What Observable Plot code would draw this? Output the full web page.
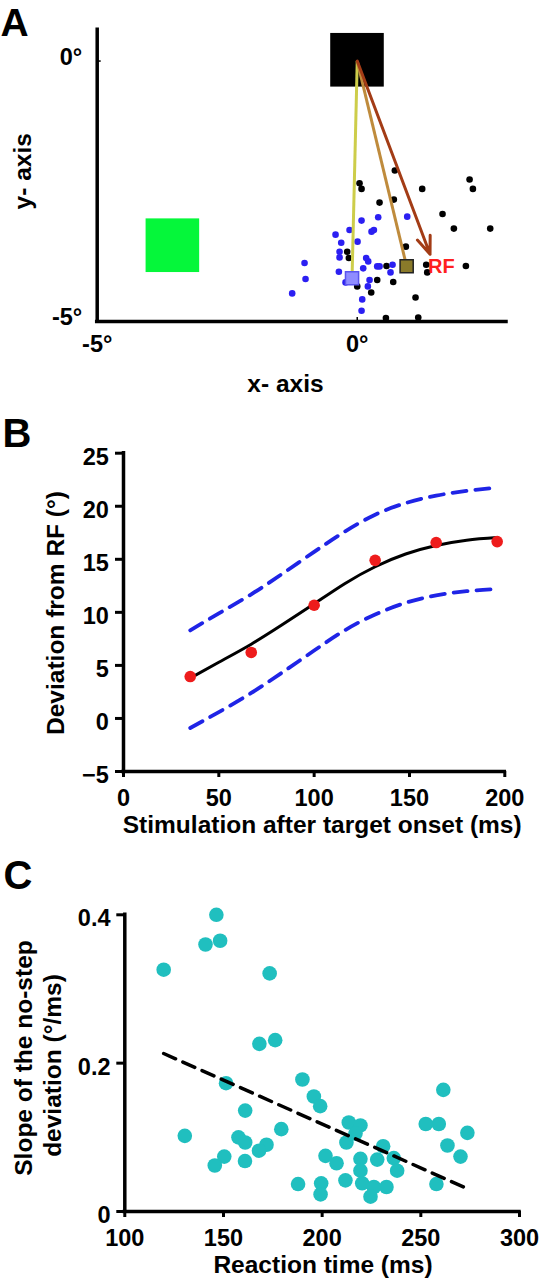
<!DOCTYPE html>
<html>
<head>
<meta charset="utf-8">
<script src="https://cdn.jsdelivr.net/npm/d3@7"></script>
<script src="https://cdn.jsdelivr.net/npm/@observablehq/plot@0.6"></script>
<style>
  html, body { margin: 0; padding: 0; background: #fff; }
  #wrap { position: relative; width: 540px; height: 1280px; overflow: hidden; background: #fff; }
  #wrap svg { position: absolute; left: 0; }
</style>
</head>
<body>
<div id="wrap"></div>
<script>
// ---------- Panel A data (degrees) ----------
const blackX = [0.723, 0.044, 0.083, 1.249, 2.160, 2.224, 0.429, 0.704, 1.640, 1.858, 2.557, 0.935, -0.193, -0.161, 0.563, 1.326, 1.346, 2.089, 0.384, 0.692, 0.0, 0.269, 1.121, 0.551, 1.173];
const blackY = [-2.102, -2.345, -2.454, -2.454, -2.275, -2.454, -2.717, -2.660, -2.935, -3.217, -3.217, -3.563, -3.660, -3.781, -3.935, -3.910, -4.057, -3.935, -4.204, -4.243, -4.326, -4.442, -4.538, -4.935, -4.922];
const blueX = [0.961, 0.403, 0.083, -0.148, 0.275, 0.320, -0.417, -0.308, 0.006, -0.340, -0.340, 0.172, 0.211, -1.013, 0.115, 0.384, 0.429, 0.679, -0.353, 0.640, -0.994, -0.225, 0.237, 0.204, -1.251, 0.096, 0.083];
const blueY = [-2.987, -2.999, -3.063, -3.243, -3.275, -3.243, -3.333, -3.487, -3.467, -3.660, -3.769, -3.781, -3.846, -3.878, -3.980, -3.942, -3.942, -3.910, -4.044, -4.057, -4.185, -4.249, -4.204, -4.326, -4.461, -4.576, -4.794];
// fixation box and target box
const boxX1 = [-0.51, -4.06];
const boxX2 = [0.52, -3.03];
const boxY1 = [-0.50, -4.06];
const boxY2 = [0.53, -3.03];
const fixX = [0];
const fixY = [0];
// saccade endpoints (no-stim, stim) and RF vector
const saccadeEndX = [-0.10, 0.95];
const saccadeEndY = [-4.17, -3.94];
const rfVecX = [1.40];
const rfVecY = [-3.71];
const rfLabelX = [1.36];
const rfLabelY = [-3.95];
const rfLabel = ["RF"];
const ticksA = [-5, 0];

// ---------- Panel B data ----------
const stimTime = [35, 67, 100, 132, 164, 196];
const deviation = [3.95, 6.22, 10.67, 14.9, 16.58, 16.67];
const fitTime = [35, 50, 67, 83, 100, 116, 132, 148, 164, 180, 196];
const fitDev = [3.8, 5.3, 7.0, 8.8, 10.8, 12.7, 14.3, 15.5, 16.3, 16.8, 17.05];
const upperDev = [8.3, 9.9, 11.7, 13.6, 15.7, 17.6, 19.2, 20.3, 21.0, 21.45, 21.75];
const lowerDev = [-0.9, 0.6, 2.4, 4.3, 6.4, 8.3, 9.8, 10.9, 11.6, 12.0, 12.2];
const ticksBx = [0, 50, 100, 150, 200];
const ticksBy = [-5, 0, 5, 10, 15, 20, 25];

// ---------- Panel C data ----------
const rt = [146.4, 140.9, 148.3, 119.7, 173.4, 168.2, 176.2, 151.3, 190.0, 195.8, 199.0, 161.0, 130.4, 157.6, 161.0, 179.3, 171.8, 168.0, 150.4, 145.6, 160.9, 213.5, 219.4, 216.9, 212.3, 201.7, 207.3, 230.9, 227.9, 219.4, 219.4, 236.3, 238.0, 187.8, 199.5, 199.2, 211.8, 220.3, 226.2, 224.5, 232.6, 252.5, 259.1, 261.4, 263.5, 273.6, 270.1, 257.9];
const slope = [0.400, 0.360, 0.365, 0.326, 0.321, 0.226, 0.231, 0.173, 0.178, 0.155, 0.142, 0.136, 0.102, 0.100, 0.093, 0.111, 0.090, 0.082, 0.074, 0.062, 0.068, 0.120, 0.116, 0.105, 0.093, 0.075, 0.065, 0.088, 0.070, 0.071, 0.055, 0.072, 0.055, 0.037, 0.038, 0.023, 0.042, 0.038, 0.033, 0.020, 0.033, 0.118, 0.118, 0.164, 0.089, 0.106, 0.074, 0.037];
const regRT = [119.7, 273.4];
const regSlope = [0.213, 0.031];
const ticksCx = [100, 150, 200, 250, 300];
const ticksCy = [0, 0.2, 0.4];

// ---------- build ----------
const FONT = "'Liberation Sans', Arial, Helvetica, sans-serif";
const TICKFS = 23.5, TITLEFS = 24.5, LETTERFS = 40;
const style = {fontFamily: FONT, fontWeight: "bold", fontSize: TICKFS + "px", color: "black", background: "transparent", overflow: "visible"};
const wrap = document.getElementById("wrap");
function place(svg, top) { svg.style.top = top + "px"; wrap.appendChild(svg); }

const degFmt = d => (d < 0 ? "-" : "") + Math.abs(d) + "°";

// Panel A
const blackPts = blackX.map((x, i) => ({x, y: blackY[i]}));
const bluePts = blueX.map((x, i) => ({x, y: blueY[i]}));
const boxes = boxX1.map((x1, i) => ({x1, x2: boxX2[i], y1: boxY1[i], y2: boxY2[i]}));
const sacc = saccadeEndX.map((x, i) => ({x1: fixX[0], y1: fixY[0], x2: x, y2: saccadeEndY[i]}));
const rfVec = rfVecX.map((x, i) => ({x1: fixX[0], y1: fixY[0], x2: x, y2: rfVecY[i]}));
const rfText = rfLabel.map((t, i) => ({x: rfLabelX[i], y: rfLabelY[i], t}));

const A = {ml: 96.7, mr: 34, mt: 29.3, mb: 79, h: 400};
const plotA = Plot.plot({
  width: 540, height: A.h,
  marginLeft: A.ml, marginRight: A.mr, marginTop: A.mt, marginBottom: A.mb,
  x: {domain: [-5, 2.87]}, y: {domain: [-5, 0.6]},
  style,
  marks: [
    Plot.rect([boxes[0]], {x1: "x1", x2: "x2", y1: "y1", y2: "y2", fill: "black"}),
    Plot.rect([boxes[1]], {x1: "x1", x2: "x2", y1: "y1", y2: "y2", fill: "#05f73a"}),
    Plot.dot(blackPts, {x: "x", y: "y", r: 3.3, fill: "black"}),
    Plot.dot(bluePts, {x: "x", y: "y", r: 3.3, fill: "#2b1ff2"}),
    Plot.link([sacc[0]], {x1: "x1", y1: "y1", x2: "x2", y2: "y2", stroke: "#cdcd4a", strokeWidth: 3}),
    Plot.link([sacc[1]], {x1: "x1", y1: "y1", x2: "x2", y2: "y2", stroke: "#bf8b3c", strokeWidth: 3}),
    Plot.arrow(rfVec, {x1: "x1", y1: "y1", x2: "x2", y2: "y2", stroke: "#a33c16", strokeWidth: 3, headLength: 9.5, headAngle: 42}),
    Plot.dot([{x: saccadeEndX[0], y: saccadeEndY[0]}], {x: "x", y: "y", symbol: "square", r: 7.4, fill: "#8f8cff", stroke: "#5a55ee", strokeWidth: 1.5}),
    Plot.dot([{x: saccadeEndX[1], y: saccadeEndY[1]}], {x: "x", y: "y", symbol: "square", r: 7.4, fill: "#8a7a2a", stroke: "#222", strokeWidth: 1.5}),
    Plot.text(rfText, {x: "x", y: "y", text: "t", fill: "#ff2020", fontSize: 20, textAnchor: "start"}),
    Plot.ruleX([-5], {strokeWidth: 3.5, strokeLinecap: "square"}),
    Plot.ruleY([-5], {strokeWidth: 3.5, strokeLinecap: "square"}),
    Plot.axisX({ticks: [0], tickSize: -4, tickFormat: () => "", strokeWidth: 1.5, label: null}),
    Plot.axisY({ticks: [0], tickSize: -4, tickFormat: () => "", strokeWidth: 1.5, label: null}),
    Plot.axisX({ticks: ticksA, tickSize: 0, tickPadding: 14, tickFormat: degFmt, label: null}),
    Plot.axisY({ticks: ticksA, tickSize: 0, tickPadding: 15, dy: -4, tickFormat: degFmt, label: null}),
    Plot.text(["x- axis"], {frameAnchor: "bottom", textAnchor: "middle", lineAnchor: "bottom", dx: 285 - (A.ml + 540 - A.mr) / 2, dy: 391 - (A.h - A.mb), fontSize: TITLEFS}),
    Plot.text(["y- axis"], {frameAnchor: "left", textAnchor: "middle", lineAnchor: "middle", rotate: -90, dx: 23 - A.ml, dy: 170.8 - (A.mt + A.h - A.mb) / 2, fontSize: TITLEFS}),
    Plot.text(["A"], {frameAnchor: "top-left", textAnchor: "start", lineAnchor: "bottom", dx: 0 - A.ml, dy: 35.5 - A.mt, fontSize: 39})
  ]
});
place(plotA, 0);

// Panel B
const B = {ml: 123, mr: 35.7, mt: 52.7, mb: 69, h: 440, top: 400};
const ptsB = stimTime.map((x, i) => ({x, y: deviation[i]}));
const fitB = fitTime.map((x, i) => ({x, y: fitDev[i]}));
const upB = fitTime.map((x, i) => ({x, y: upperDev[i]}));
const loB = fitTime.map((x, i) => ({x, y: lowerDev[i]}));
const plotB = Plot.plot({
  width: 540, height: B.h,
  marginLeft: B.ml, marginRight: B.mr, marginTop: B.mt, marginBottom: B.mb,
  x: {domain: [0, 200]}, y: {domain: [-5, 25]},
  style,
  marks: [
    Plot.line(upB, {x: "x", y: "y", stroke: "#1f24e6", strokeWidth: 3.8, strokeDasharray: "14,9", curve: "natural"}),
    Plot.line(loB, {x: "x", y: "y", stroke: "#1f24e6", strokeWidth: 3.8, strokeDasharray: "14,9", curve: "natural"}),
    Plot.line(fitB, {x: "x", y: "y", stroke: "black", strokeWidth: 3, curve: "natural"}),
    Plot.dot(ptsB, {x: "x", y: "y", r: 5.8, fill: "#ee1c1c"}),
    Plot.ruleX([0], {strokeWidth: 3.5, strokeLinecap: "square"}),
    Plot.ruleY([-5], {strokeWidth: 3.5, strokeLinecap: "square"}),
    Plot.axisX({ticks: ticksBx, tickSize: 6, tickPadding: 11.5, strokeWidth: 3, label: null}),
    Plot.axisY({ticks: ticksBy, tickSize: 8, tickFormat: () => "", strokeWidth: 3, label: null}),
    Plot.axisY({ticks: ticksBy, tickSize: 0, tickPadding: 14.7, dy: 4, label: null}),
    Plot.text(["Stimulation after target onset (ms)"], {frameAnchor: "bottom", textAnchor: "middle", lineAnchor: "bottom", dx: 321.7 - (B.ml + 540 - B.mr) / 2, dy: 832 - (B.top + B.h - B.mb), fontSize: TITLEFS}),
    Plot.text(["Deviation from RF (°)"], {frameAnchor: "left", textAnchor: "middle", lineAnchor: "middle", rotate: -90, dx: 56 - B.ml, dy: 612.5 - (B.top + (B.mt + B.h - B.mb) / 2), fontSize: TITLEFS}),
    Plot.text(["B"], {frameAnchor: "top-left", textAnchor: "start", lineAnchor: "bottom", dx: 2 - B.ml, dy: 446.7 - (B.top + B.mt), fontSize: LETTERFS})
  ]
});
place(plotB, B.top);

// Panel C
const C = {ml: 124.3, mr: 21, mt: 74.3, mb: 69, h: 440, top: 840};
const ptsC = rt.map((x, i) => ({x, y: slope[i]}));
const regC = regRT.map((x, i) => ({x, y: regSlope[i]}));
const plotC = Plot.plot({
  width: 540, height: C.h,
  marginLeft: C.ml, marginRight: C.mr, marginTop: C.mt, marginBottom: C.mb,
  x: {domain: [100, 300]}, y: {domain: [0, 0.4]},
  style,
  marks: [
    Plot.dot(ptsC, {x: "x", y: "y", r: 7.3, fill: "#20bfbf"}),
    Plot.line(regC, {x: "x", y: "y", stroke: "black", strokeWidth: 3.5, strokeDasharray: "13,8"}),
    Plot.ruleX([100], {strokeWidth: 3.5, strokeLinecap: "square"}),
    Plot.ruleY([0], {strokeWidth: 3.5, strokeLinecap: "square"}),
    Plot.axisX({ticks: ticksCx, tickSize: 6, tickPadding: 12, strokeWidth: 3, label: null}),
    Plot.axisY({ticks: ticksCy, tickSize: 8, tickFormat: () => "", strokeWidth: 3, label: null}),
    Plot.axisY({ticks: ticksCy, tickSize: 0, tickPadding: 14.3, dy: 4, tickFormat: d => String(d), label: null}),
    Plot.text(["Reaction time (ms)"], {frameAnchor: "bottom", textAnchor: "middle", lineAnchor: "bottom", dx: 322.5 - (C.ml + 540 - C.mr) / 2, dy: 1272 - (C.top + C.h - C.mb), fontSize: TITLEFS}),
    Plot.text(["Slope of the no-step"], {frameAnchor: "left", textAnchor: "middle", lineAnchor: "middle", rotate: -90, dx: 23.4 - C.ml, dy: 1057.5 - (C.top + (C.mt + C.h - C.mb) / 2), fontSize: TITLEFS}),
    Plot.text(["deviation (°/ms)"], {frameAnchor: "left", textAnchor: "middle", lineAnchor: "middle", rotate: -90, dx: 52.5 - C.ml, dy: 1065 - (C.top + (C.mt + C.h - C.mb) / 2), fontSize: TITLEFS}),
    Plot.text(["C"], {frameAnchor: "top-left", textAnchor: "start", lineAnchor: "bottom", dx: 3 - C.ml, dy: 888 - (C.top + C.mt), fontSize: LETTERFS})
  ]
});
place(plotC, C.top);
</script>
</body>
</html>
